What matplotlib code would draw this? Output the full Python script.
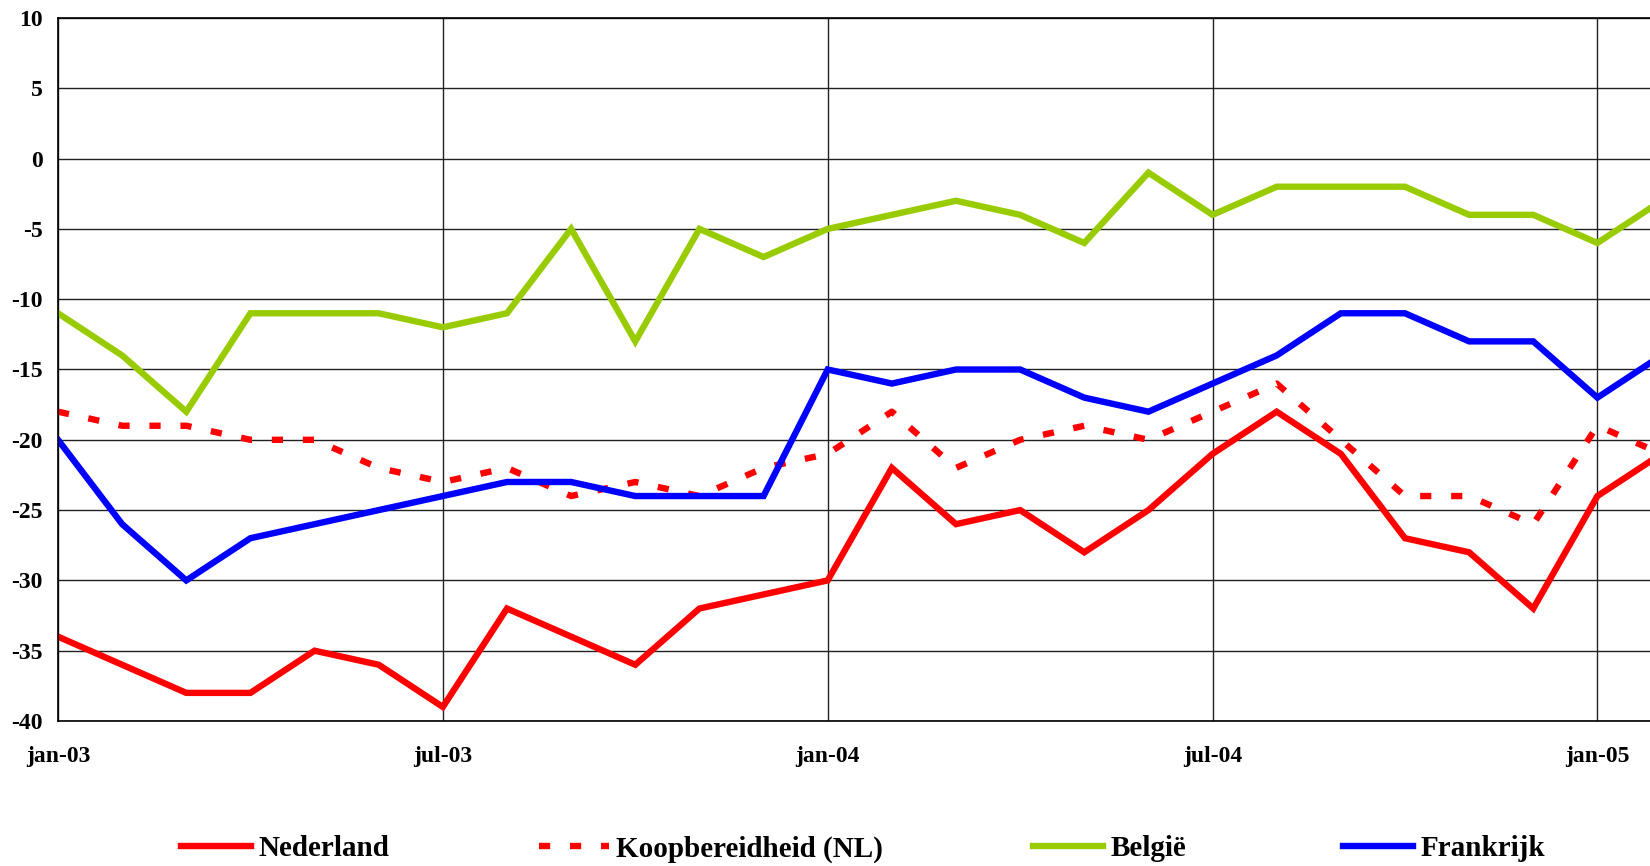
import matplotlib
matplotlib.use("Agg")
import matplotlib.pyplot as plt

months = list(range(26))  # jan-03 .. feb-05
tick_pos = [0, 6, 12, 18, 24]
tick_labels = ["jan-03", "jul-03", "jan-04", "jul-04", "jan-05"]
y_ticks = [10, 5, 0, -5, -10, -15, -20, -25, -30, -35, -40]

nederland = [-34, -36, -38, -38, -35, -36, -39, -32, -34, -36, -32, -31,
             -30, -22, -26, -25, -28, -25, -21, -18, -21, -27, -28, -32,
             -24, -21]
koopbereidheid = [-18, -19, -19, -20, -20, -22, -23, -22, -24, -23, -24, -22,
                  -21, -18, -22, -20, -19, -20, -18, -16, -20, -24, -24, -26,
                  -19, -21]
belgie = [-11, -14, -18, -11, -11, -11, -12, -11, -5, -13, -5, -7,
          -5, -4, -3, -4, -6, -1, -4, -2, -2, -2, -4, -4,
          -6, -3]
frankrijk = [-20, -26, -30, -27, -26, -25, -24, -23, -23, -24, -24, -24,
             -15, -16, -15, -15, -17, -18, -16, -14, -11, -11, -13, -13,
             -17, -14]

W, H = 1650, 866
fig = plt.figure(figsize=(W / 100, H / 100), dpi=100)
ax = fig.add_axes([58 / W, 1 - 721 / H, (W - 58) / W, (721 - 18) / H])

font = "Liberation Serif"
lw = 4.6
l1, = ax.plot(months, nederland, color="#FF0000", lw=lw, solid_joinstyle="miter")
l2, = ax.plot(months, koopbereidheid, color="#FF0000", lw=lw,
              linestyle=(0, (1.75, 3.1)), dash_capstyle="butt")
l3, = ax.plot(months, belgie, color="#99CC00", lw=lw, solid_joinstyle="miter")
l4, = ax.plot(months, frankrijk, color="#0000FF", lw=lw, solid_joinstyle="miter")

ax.set_xlim(0, 24.82)
ax.set_ylim(-40, 10)
ax.set_yticks(y_ticks)
ax.set_yticklabels([str(v) for v in y_ticks])
ax.set_xticks(tick_pos)
ax.set_xticklabels(tick_labels)
ax.tick_params(axis="both", length=0)
ax.tick_params(axis="y", pad=11)
ax.tick_params(axis="x", pad=18)
for lab in ax.get_xticklabels() + ax.get_yticklabels():
    lab.set_fontfamily(font)
    lab.set_fontweight("bold")
    lab.set_fontsize(17)

ax.grid(True, color="#222222", lw=1.0)
ax.set_axisbelow(True)
for s in ax.spines.values():
    s.set_color("black")
    s.set_linewidth(1.2)
ax.spines["right"].set_visible(False)

legend_items = [
    (l1, "Nederland", 181),
    (l2, "Koopbereidheid (NL)", 539),
    (l3, "België", 1033),
    (l4, "Frankrijk", 1343),
]
for handle, label, x0 in legend_items:
    fig.legend(handles=[handle], labels=[label], loc="center left",
               bbox_to_anchor=(x0 / W, 1 - 849 / H), frameon=False,
               handlelength=2.4, handletextpad=0.25, borderpad=0,
               borderaxespad=0,
               prop={"family": font, "weight": "bold", "size": 21})

fig.savefig("out.png", dpi=100, facecolor="white")
